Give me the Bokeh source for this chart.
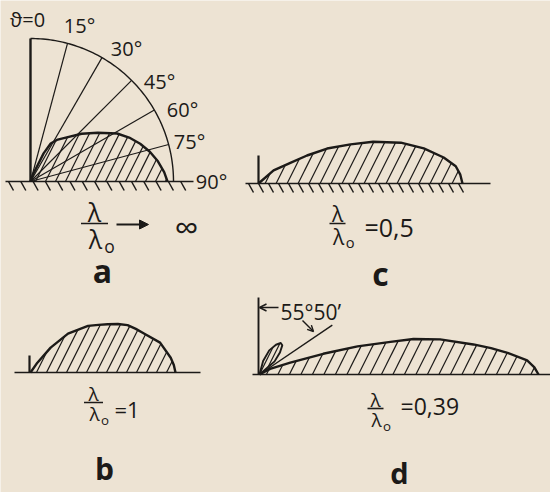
import numpy as np
from bokeh.plotting import figure
from bokeh.models import Range1d, Arrow, NormalHead, OpenHead
from bokeh.core.properties import value
from bokeh.embed import file_html
from bokeh.resources import INLINE

INK = "#1c1a18"
PAPER = "#ede3d3"
FONT = "Open Sans"

# Radiation patterns: angle measured from the vertical (degrees) and radius (px)
A_THETA = [0, 20, 25, 28, 33, 40, 47, 54, 61, 66, 71, 76, 81, 86, 90]
A_R = [0, 8, 31, 43, 50, 58, 70, 83, 99, 108, 116, 123, 129, 134, 137]
B_THETA = [33, 35, 39, 44, 51, 55, 58, 61, 64, 67.5, 71, 77, 84, 87, 90]
B_R = [0, 12, 32, 54, 74, 83, 91, 100, 108, 114, 120, 133, 141, 143.5, 145]
C_THETA = [45, 49, 57, 60, 63, 67, 70, 74, 78, 82, 85, 87.5, 90]
C_R = [0, 20, 38, 56, 77, 100, 122, 148, 169, 187, 198, 202, 204]
D_THETA = [55.83, 62, 69, 72, 74, 76, 77, 79, 82, 83.5, 85, 87, 88.5, 90]
D_R = [0, 12, 33, 67, 102, 135, 158, 184, 216, 233, 249, 268, 275, 279]
D_SIDE_THETA = [10, 15, 22, 29, 34, 38, 43, 49, 56]
D_SIDE_R = [0, 14, 26, 34, 38, 37, 30, 20, 0]

# Angular scale of panel a
SCALE_ANGLES = [15, 30, 45, 60, 75]
SCALE_TEXT = ["\u03d1=0", "15°", "30°", "45°", "60°", "75°", "90°"]
SCALE_RADIUS = 143
NULL_ANGLE = 55 + 50 / 60          # 55°50'
NULL_TEXT = "55°50\u2019"

RATIO_TEXT = ["\u221e", "=1", "=0,5", "=0,39"]
PANEL_TEXT = ["a", "b", "c", "d"]


def polar(ox, oy, theta_deg, r):
    t = np.radians(np.asarray(theta_deg, dtype=float))
    r = np.asarray(r, dtype=float)
    return ox + r * np.sin(t), oy - r * np.cos(t)


def hatch(xs, ys, spacing, k=0.5, phase=None):
    """Clip '/' hatch lines (x + k*y = const) to a closed outline."""
    xs = np.asarray(xs, float)
    ys = np.asarray(ys, float)
    u = xs + k * ys
    n = len(xs)
    if phase is None:
        phase = spacing * 0.6
    segx, segy = [], []
    c = u.min() + phase
    while c < u.max():
        hits = []
        for i in range(n):
            j = (i + 1) % n
            u1, u2 = u[i], u[j]
            if (u1 - c) * (u2 - c) < 0:
                t = (c - u1) / (u2 - u1)
                hits.append((ys[i] + t * (ys[j] - ys[i]), xs[i] + t * (xs[j] - xs[i])))
        hits.sort()
        for m in range(0, len(hits) - 1, 2):
            segx.append([hits[m][1], hits[m + 1][1]])
            segy.append([hits[m][0], hits[m + 1][0]])
        c += spacing
    return segx, segy


p = figure(width=550, height=492, x_range=Range1d(0, 550), y_range=Range1d(492, 0),
           output_backend="svg", toolbar_location=None, min_border=0)
p.axis.visible = False
p.grid.visible = False
p.outline_line_color = None
p.background_fill_color = PAPER
p.border_fill_color = PAPER


def label(x, y, txt, size, align="center", style="normal"):
    p.text(x=[x], y=[y], text=[txt], text_font=value(FONT), text_font_size=f"{size}px",
           text_align=align, text_baseline="middle", text_color=INK, text_font_style=style)


def lobe(ox, oy, theta, r, spacing, width=2.4):
    x, y = polar(ox, oy, theta, r)
    hx, hy = hatch(x, y, spacing)
    p.multi_line(hx, hy, line_color=INK, line_width=1.2)
    p.line(x, y, line_color=INK, line_width=width, line_join="round")


def ground(x0, x1, y, ticks_to=None, step=10.0):
    p.line([x0, x1], [y, y], line_color=INK, line_width=1.7)
    if ticks_to is not None:
        tx = np.arange(x0 + 3, ticks_to, step)
        p.multi_line([[t, t + 5] for t in tx], [[y, y + 9] for t in tx],
                     line_color=INK, line_width=1.5)


def ratio(cx, bar_y, bar_w, size, value_txt, value_x, value_y, value_size):
    label(cx, bar_y - size * 0.45, "\u03bb", size)
    p.line([cx - bar_w / 2, cx + bar_w / 2], [bar_y, bar_y], line_color=INK, line_width=1.6)
    label(cx + 1, bar_y + size * 0.62, "\u03bb", size)
    label(cx + size * 0.6, bar_y + size * 0.9, "o", size * 0.7)
    if value_txt:
        label(value_x, value_y, value_txt, value_size, align="left")


# ---- panel a -------------------------------------------------------------
ax0, ay0 = 30, 181
ground(5, 193, ay0, ticks_to=188, step=12.3)
arc_t = np.linspace(0, 90, 91)
arx, ary = polar(ax0, ay0, arc_t, np.full_like(arc_t, SCALE_RADIUS))
p.line(arx, ary, line_color=INK, line_width=1.4)
p.line([ax0, ax0], [ay0, ay0 - SCALE_RADIUS], line_color=INK, line_width=2.4)
for ang in SCALE_ANGLES:
    ex, ey = polar(ax0, ay0, [ang], [SCALE_RADIUS])
    p.line([ax0, ex[0]], [ay0, ey[0]], line_color=INK, line_width=1.2)
lobe(ax0, ay0, A_THETA, A_R, 10)
scale_pos = [(27, 19), (79, 25), (126, 48), (159, 81), (182, 109), (189, 141), (211, 181)]
for (sx, sy), t in zip(scale_pos, SCALE_TEXT):
    label(sx, sy, t, 20)
ratio(94, 223, 27, 25, "", 0, 0, 0)
p.add_layout(Arrow(end=NormalHead(size=9, fill_color=INK, line_color=INK),
                   x_start=116, y_start=224, x_end=148, y_end=224,
                   line_color=INK, line_width=2.2))
label(186, 226, RATIO_TEXT[0], 34)
label(102, 270, PANEL_TEXT[0], 32, style="bold")

# ---- panel b -------------------------------------------------------------
bx0, by0 = 30, 372
ground(14, 200, by0)
p.line([bx0 - 1, bx0 - 1], [by0, by0 - 17], line_color=INK, line_width=2.2)
lobe(bx0, by0, B_THETA, B_R, 10)
ratio(93, 402, 19, 19, RATIO_TEXT[1], 114, 408, 22)
label(104, 468, PANEL_TEXT[1], 30, style="bold")

# ---- panel c -------------------------------------------------------------
cx0, cy0 = 258, 183
ground(245, 490, cy0, ticks_to=466, step=10)
p.line([cx0, cx0], [cy0, cy0 - 28], line_color=INK, line_width=2.2)
lobe(cx0, cy0, C_THETA, C_R, 11)
ratio(337, 223, 16, 21, RATIO_TEXT[2], 364, 226, 25)
label(380, 273, PANEL_TEXT[2], 32, style="bold")

# ---- panel d -------------------------------------------------------------
dx0, dy0 = 259, 374
ground(252, 550, dy0)
p.line([dx0 - 1, dx0 - 1], [dy0, 297], line_color=INK, line_width=1.9)
lobe(dx0, dy0, D_THETA, D_R, 11.5)
lobe(dx0, dy0, D_SIDE_THETA, D_SIDE_R, 5, width=1.9)
nx, ny = polar(dx0, dy0, [NULL_ANGLE], [88])
p.line([dx0, nx[0]], [dy0, ny[0]], line_color=INK, line_width=1.4)
p.add_layout(Arrow(end=OpenHead(size=7, line_color=INK, line_width=1.4),
                   x_start=278, y_start=307, x_end=259, y_end=307,
                   line_color=INK, line_width=1.4))
p.add_layout(Arrow(end=OpenHead(size=6, line_color=INK, line_width=1.4),
                   x_start=302, y_start=320, x_end=313, y_end=331,
                   line_color=INK, line_width=1.4))
label(280, 311, NULL_TEXT, 21, align="left")
ratio(375, 408, 16, 19, RATIO_TEXT[3], 400, 405, 23)
label(399, 472, PANEL_TEXT[3], 29, style="bold")

open("out.html", "w").write(file_html(p, INLINE))
